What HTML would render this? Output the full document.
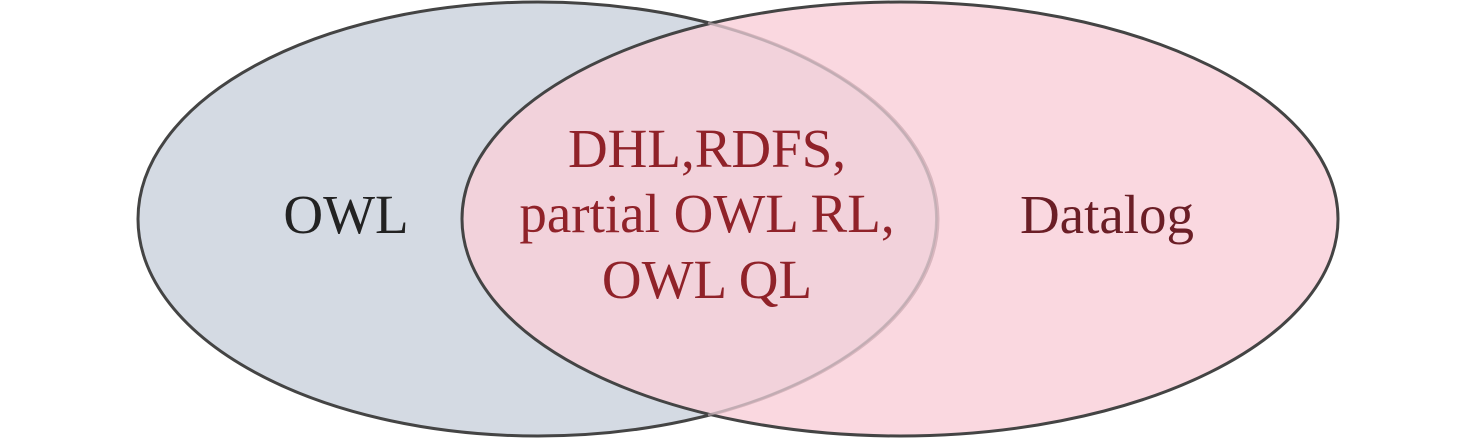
<!DOCTYPE html>
<html><head><meta charset="utf-8"><style>
html,body{margin:0;padding:0;background:#fff;}
svg{display:block;}
</style></head><body>
<svg width="1476" height="438" viewBox="0 0 1476 438" xmlns="http://www.w3.org/2000/svg">
<ellipse cx="538" cy="219" rx="400" ry="217" fill="#d4dae3" stroke="#444" stroke-width="3"/>
<ellipse cx="900" cy="219" rx="438" ry="217" fill="#f9d0d9" fill-opacity="0.82" stroke="#444" stroke-width="3"/>
<path d="M 708 23 A 400 217 0 0 1 708 415" fill="none" stroke="#b9a8ae" stroke-width="2.5" opacity="0.7"/>
<g font-family="'Liberation Serif', serif" font-size="55" text-anchor="middle">
<text x="346" y="233" fill="#222">OWL</text>
<text x="1107" y="233" fill="#6b1e26">Datalog</text>
<text x="707" y="167" fill="#902229">DHL,RDFS,</text>
<text x="707" y="232" fill="#902229">partial OWL RL,</text>
<text x="707" y="298" fill="#902229">OWL QL</text>
</g>
</svg>
</body></html>
